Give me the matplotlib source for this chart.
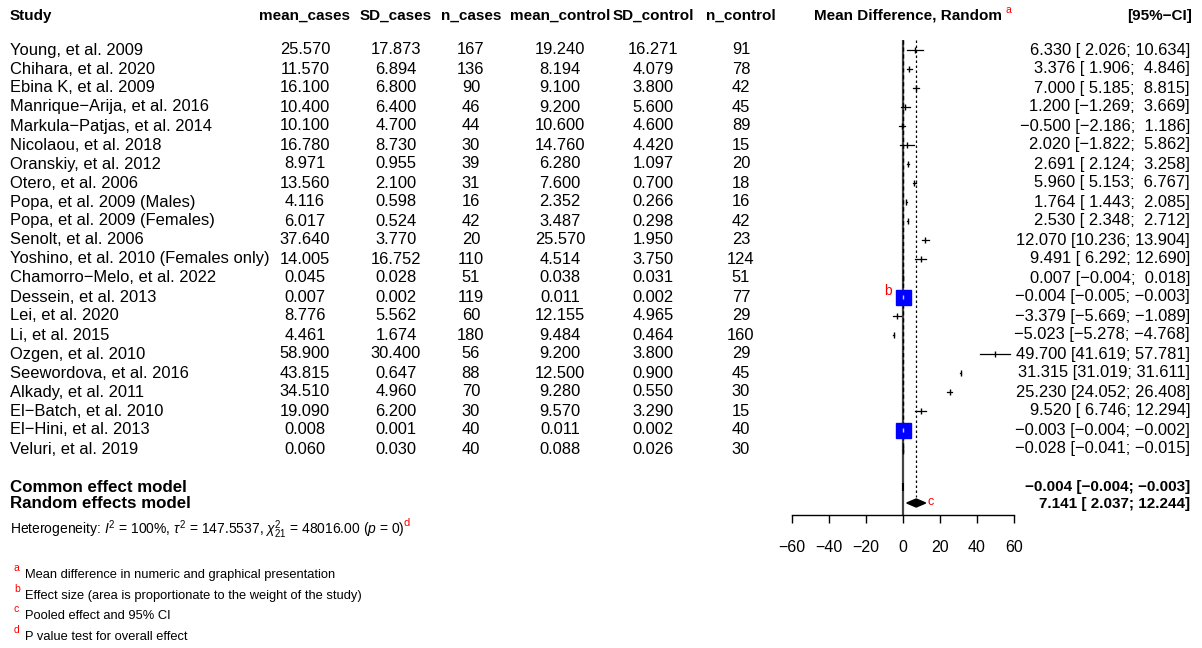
import matplotlib.pyplot as plt
import numpy as np

plt.rcParams['font.family'] = ['Liberation Sans', 'DejaVu Sans']
plt.rcParams['mathtext.fontset'] = 'custom'
plt.rcParams['mathtext.rm'] = 'Liberation Sans'
plt.rcParams['mathtext.it'] = 'Liberation Sans:italic'

studies = ["Young, et al. 2009", "Chihara, et al. 2020", "Ebina K, et al. 2009",
           "Manrique-Arija, et al. 2016", "Markula-Patjas, et al. 2014", "Nicolaou, et al. 2018",
           "Oranskiy, et al. 2012", "Otero, et al. 2006", "Popa, et al. 2009 (Males)",
           "Popa, et al. 2009 (Females)", "Senolt, et al. 2006", "Yoshino, et al. 2010 (Females only)",
           "Chamorro-Melo, et al. 2022", "Dessein, et al. 2013", "Lei, et al. 2020",
           "Li, et al. 2015", "Ozgen, et al. 2010", "Seewordova, et al. 2016",
           "Alkady, et al. 2011", "El-Batch, et al. 2010", "El-Hini, et al. 2013",
           "Veluri, et al. 2019"]
mean_cases = [25.570, 11.570, 16.100, 10.400, 10.100, 16.780, 8.971, 13.560, 4.116, 6.017, 37.640,
              14.005, 0.045, 0.007, 8.776, 4.461, 58.900, 43.815, 34.510, 19.090, 0.008, 0.060]
sd_cases = [17.873, 6.894, 6.800, 6.400, 4.700, 8.730, 0.955, 2.100, 0.598, 0.524, 3.770,
            16.752, 0.028, 0.002, 5.562, 1.674, 30.400, 0.647, 4.960, 6.200, 0.001, 0.030]
n_cases = [167, 136, 90, 46, 44, 30, 39, 31, 16, 42, 20, 110, 51, 119, 60, 180, 56, 88, 70, 30, 40, 40]
mean_control = [19.240, 8.194, 9.100, 9.200, 10.600, 14.760, 6.280, 7.600, 2.352, 3.487, 25.570,
                4.514, 0.038, 0.011, 12.155, 9.484, 9.200, 12.500, 9.280, 9.570, 0.011, 0.088]
sd_control = [16.271, 4.079, 3.800, 5.600, 4.600, 4.420, 1.097, 0.700, 0.266, 0.298, 1.950,
              3.750, 0.031, 0.002, 4.965, 0.464, 3.800, 0.900, 0.550, 3.290, 0.002, 0.026]
n_control = [91, 78, 42, 45, 89, 15, 20, 18, 16, 42, 23, 124, 51, 77, 29, 160, 29, 45, 30, 15, 40, 30]
md = [6.330, 3.376, 7.000, 1.200, -0.500, 2.020, 2.691, 5.960, 1.764, 2.530, 12.070,
      9.491, 0.007, -0.004, -3.379, -5.023, 49.700, 31.315, 25.230, 9.520, -0.003, -0.028]
ci_lo = [2.026, 1.906, 5.185, -1.269, -2.186, -1.822, 2.124, 5.153, 1.443, 2.348, 10.236,
         6.292, -0.004, -0.005, -5.669, -5.278, 41.619, 31.019, 24.052, 6.746, -0.004, -0.041]
ci_hi = [10.634, 4.846, 8.815, 3.669, 1.186, 5.862, 3.258, 6.767, 2.085, 2.712, 13.904,
         12.690, 0.018, -0.003, -1.089, -4.768, 57.781, 31.611, 26.408, 12.294, -0.002, -0.015]
common_eff = [-0.004, -0.004, -0.003]
random_eff = [7.141, 2.037, 12.244]
xticks = [-60, -40, -20, 0, 20, 40, 60]
footnotes = [("a", "Mean difference in numeric and graphical presentation"),
             ("b", "Effect size (area is proportionate to the weight of the study)"),
             ("c", "Pooled effect and 95% CI"),
             ("d", "P value test for overall effect")]

MINUS = "\u2212"


def fmt(v, w=0):
    return f"{v:{w}.3f}".replace("-", MINUS)


def ci_text(e, lo, hi):
    return f"{fmt(e)} [{fmt(lo, 6)}; {fmt(hi, 6)}]"


W, H = 1202, 648
fig = plt.figure(figsize=(W / 100, H / 100), dpi=100)
tab = fig.add_axes([0, 0, 1, 1])
tab.set_xlim(0, W)
tab.set_ylim(H, 0)
tab.axis('off')

fs = 11.9      # body text
fsh = 11.0     # header text
fsm = 12.2     # summary rows
n = len(studies)
row_y = 50 + 19 * np.arange(n)
y_head, y_common, y_random = 16, 487, 504

# header
tab.text(10, y_head, "Study", fontsize=fsh, fontweight='bold', va='center')
cols = [(305, "mean_cases", mean_cases, True), (396, "SD_cases", sd_cases, True),
        (471, "n_cases", n_cases, False), (560, "mean_control", mean_control, True),
        (653, "SD_control", sd_control, True), (741, "n_control", n_control, False)]
for cx, name, vals, is_float in cols:
    tab.text(cx, y_head, name, fontsize=fsh, fontweight='bold', ha='center', va='center')
    for y, v in zip(row_y, vals):
        tab.text(cx, y, fmt(v) if is_float else str(v), fontsize=fs, ha='center', va='center')
tab.text(908, y_head, "Mean Difference, Random", fontsize=fsh, fontweight='bold', ha='center', va='center')
tab.text(1006, y_head - 6, "a", fontsize=7.5, color='red', va='center')
tab.text(1192, y_head, f"[95%{MINUS}CI]", fontsize=fsh, fontweight='bold', ha='right', va='center')

for y, s, e, lo, hi in zip(row_y, studies, md, ci_lo, ci_hi):
    tab.text(10, y, s.replace("-", MINUS), fontsize=fs, va='center')
    tab.text(1190, y, ci_text(e, lo, hi), fontsize=fs, ha='right', va='center')

tab.text(10, y_common, "Common effect model", fontsize=fsm, fontweight='bold', va='center')
tab.text(10, y_random, "Random effects model", fontsize=fsm, fontweight='bold', va='center')
tab.text(1190, y_common, ci_text(*common_eff), fontsize=fsh, fontweight='bold', ha='right', va='center')
tab.text(1190, y_random, ci_text(*random_eff), fontsize=fsh, fontweight='bold', ha='right', va='center')

het = (r"Heterogeneity: $\mathit{I}^2$ = 100%, $\tau^2$ = 147.5537, "
       r"$\chi^2_{21}$ = 48016.00 ($\mathit{p}$ = 0)")
tab.text(10, 530, het, fontsize=10, va='center')
tab.text(404, 523, "d", fontsize=8, color='red', va='center')

for i, (letter, txt) in enumerate(footnotes):
    y = 575 + 20.7 * i
    tab.text(14, y - 7, letter, fontsize=7.5, color='red', va='center')
    tab.text(25, y, txt, fontsize=9.3, va='center')

# forest panel
ax = fig.add_axes([792 / W, (H - 515) / H, 222 / W, (515 - 30) / H])
ax.set_xlim(-60, 60)
ax.set_ylim(515, 30)
ax.patch.set_alpha(0)
for side in ['top', 'right', 'left']:
    ax.spines[side].set_visible(False)
ax.spines['bottom'].set_linewidth(1)
ax.set_yticks([])
ax.set_xticks(xticks)
ax.set_xticklabels([str(t).replace("-", MINUS) for t in xticks], fontsize=11.5)
ax.tick_params(axis='x', direction='out', length=6, width=1, pad=12)

ax.vlines(0, 40, 515, color='#444444', lw=1.6, zorder=1)
ax.vlines(common_eff[0], 40, 455, color='black', lw=1, linestyles=(0, (3, 2)), zorder=2)
ax.vlines(random_eff[0], 40, 497, color='black', lw=0.9, linestyles=(0, (2, 2)), zorder=2)

md_a, lo_a, hi_a = np.array(md), np.array(ci_lo), np.array(ci_hi)
se = (hi_a - lo_a) / 3.92
w = 1 / se ** 2
side_px = 15 * np.sqrt(w / w.max())
for y, e, lo, hi, sp in zip(row_y, md_a, lo_a, hi_a, side_px):
    ax.plot([lo, hi], [y, y], color='black', lw=0.9, zorder=3)
    if sp > 4:
        ax.plot(e, y, marker='s', ms=sp * 0.72, color='blue', mec='blue', zorder=4)
        ax.plot(e, y, marker='|', ms=3, color='#ccccff', mew=1, zorder=5)
    else:
        ax.plot(e, y, marker='|', ms=4.5, color='black', mew=1, zorder=4)

for (e, lo, hi), y in [(common_eff, y_common), (random_eff, y_random - 1)]:
    ax.fill([lo, e, hi, e], [y, y - 4, y, y + 4], color='black', zorder=4)

# red annotation letters
i_big = int(np.argmax(side_px))
tab.text(888, row_y[i_big] - 6, "b", fontsize=10, color='red', ha='center', va='center')
tab.text(931, y_random - 2, "c", fontsize=9, color='red', ha='center', va='center')

fig.savefig("out.png", dpi=100)
